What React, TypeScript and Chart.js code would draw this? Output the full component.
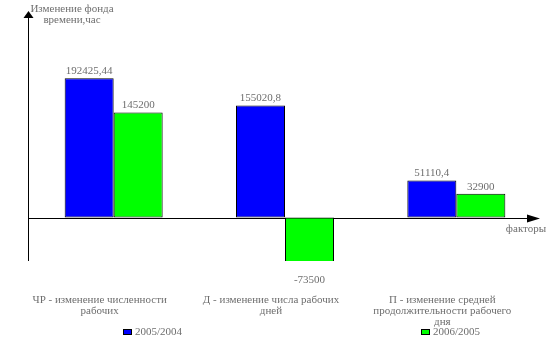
import React, { useEffect, useRef } from "react";
import { Chart, registerables } from "chart.js";

Chart.register(...registerables);

const categories: string[][] = [
  ["ЧР - изменение численности", "рабочих"],
  ["Д - изменение числа рабочих", "дней"],
  ["П - изменение средней", "продолжительности рабочего", "дня"],
];
const seriesNames = ["2005/2004", "2006/2005"];
const values2005 = [192425.44, 155020.8, 51110.4];
const values2006 = [145200, -73500, 32900];
const valueText2005 = ["192425,44", "155020,8", "51110,4"];
const valueText2006 = ["145200", "-73500", "32900"];
const yTitleLines = ["Изменение фонда", "времени,час"];
const xTitle = "факторы";
const colors = ["#0000ff", "#00ff00"];

const FONT = "'Liberation Serif', 'Times New Roman', serif";
const TEXT_COLOR = "#6e6e6e";

const overlayPlugin = {
  id: "overlay",
  beforeDatasetsDraw(chart: any) {
    const { ctx, chartArea, scales } = chart;
    const y0 = Math.round(scales.y.getPixelForValue(0)) + 0.5;
    const ax = Math.round(chartArea.left) + 0.5;
    ctx.save();
    ctx.strokeStyle = "#000";
    ctx.fillStyle = "#000";
    ctx.lineWidth = 1;
    // y axis
    ctx.beginPath();
    ctx.moveTo(ax, chartArea.bottom);
    ctx.lineTo(ax, chartArea.top + 3);
    ctx.stroke();
    ctx.beginPath();
    ctx.moveTo(ax, chartArea.top - 4);
    ctx.lineTo(ax - 5, chartArea.top + 3);
    ctx.lineTo(ax + 5, chartArea.top + 3);
    ctx.closePath();
    ctx.fill();
    // x axis
    const tip = chartArea.right - 2;
    ctx.beginPath();
    ctx.moveTo(ax, y0);
    ctx.lineTo(tip - 12, y0);
    ctx.stroke();
    ctx.beginPath();
    ctx.moveTo(tip, y0);
    ctx.lineTo(tip - 13, y0 - 4);
    ctx.lineTo(tip - 13, y0 + 4);
    ctx.closePath();
    ctx.fill();
    ctx.restore();
  },
  afterDatasetsDraw(chart: any) {
    const { ctx, chartArea } = chart;
    ctx.save();
    ctx.font = `11px ${FONT}`;
    ctx.fillStyle = TEXT_COLOR;
    ctx.textAlign = "center";
    ctx.textBaseline = "middle";
    const texts = [valueText2005, valueText2006];
    chart.data.datasets.forEach((ds: any, di: number) => {
      const meta = chart.getDatasetMeta(di);
      meta.data.forEach((bar: any, i: number) => {
        const v = ds.data[i];
        const y = v >= 0 ? bar.y - 7 : bar.y + 9;
        ctx.fillText(texts[di][i], bar.x, y);
      });
    });
    // y title
    ctx.fillText(yTitleLines[0], 72, 9);
    ctx.fillText(yTitleLines[1], 72, 20);
    // x title
    ctx.fillText(xTitle, chartArea.right - 16, 229);
    // legend
    chart.data.datasets.forEach((ds: any, di: number) => {
      const bx = di === 0 ? 123 : 421;
      const by = 329;
      ctx.fillStyle = ds.backgroundColor;
      ctx.fillRect(bx, by, 9, 6);
      ctx.strokeStyle = "#000";
      ctx.lineWidth = 1;
      ctx.strokeRect(bx + 0.5, by + 0.5, 8, 5);
      ctx.fillStyle = TEXT_COLOR;
      ctx.textAlign = "left";
      ctx.fillText(ds.label, bx + 12, by + 3.5);
    });
    ctx.restore();
  },
};

export default function App() {
  const ref = useRef<HTMLCanvasElement | null>(null);
  useEffect(() => {
    if (!ref.current) return;
    const chart = new Chart(ref.current, {
      type: "bar",
      data: {
        labels: categories,
        datasets: [
          {
            label: seriesNames[0],
            data: values2005,
            backgroundColor: colors[0],
            borderColor: "#000",
            borderWidth: 1,
            borderSkipped: false,
          },
          {
            label: seriesNames[1],
            data: values2006,
            backgroundColor: colors[1],
            borderColor: "#000",
            borderWidth: 1,
            borderSkipped: false,
          },
        ],
      },
      options: {
        responsive: false,
        animation: false,
        events: [],
        layout: { padding: { left: 28, right: 13, top: 15, bottom: 17 } },
        datasets: { bar: { categoryPercentage: 0.572, barPercentage: 1 } },
        plugins: { legend: { display: false }, tooltip: { enabled: false } },
        scales: {
          x: {
            grid: { display: false, drawTicks: false },
            border: { display: false },
            afterFit: (scale: any) => {
              scale.height = 68;
              scale.paddingLeft = 0;
              scale.paddingRight = 0;
            },
            ticks: {
              autoSkip: false,
              maxRotation: 0,
              minRotation: 0,
              padding: 34,
              labelOffset: -14,
              color: TEXT_COLOR,
              font: { family: FONT, size: 11, lineHeight: 1.0 },
            },
          },
          y: {
            display: false,
            min: -60000,
            max: 280000,
          },
        },
      },
      plugins: [overlayPlugin],
    });
    return () => chart.destroy();
  }, []);
  return (
    <div style={{ position: "absolute", left: 0, top: 0, width: 555, height: 346, background: "#fff" }}>
      <canvas ref={ref} width={555} height={346} />
    </div>
  );
}
